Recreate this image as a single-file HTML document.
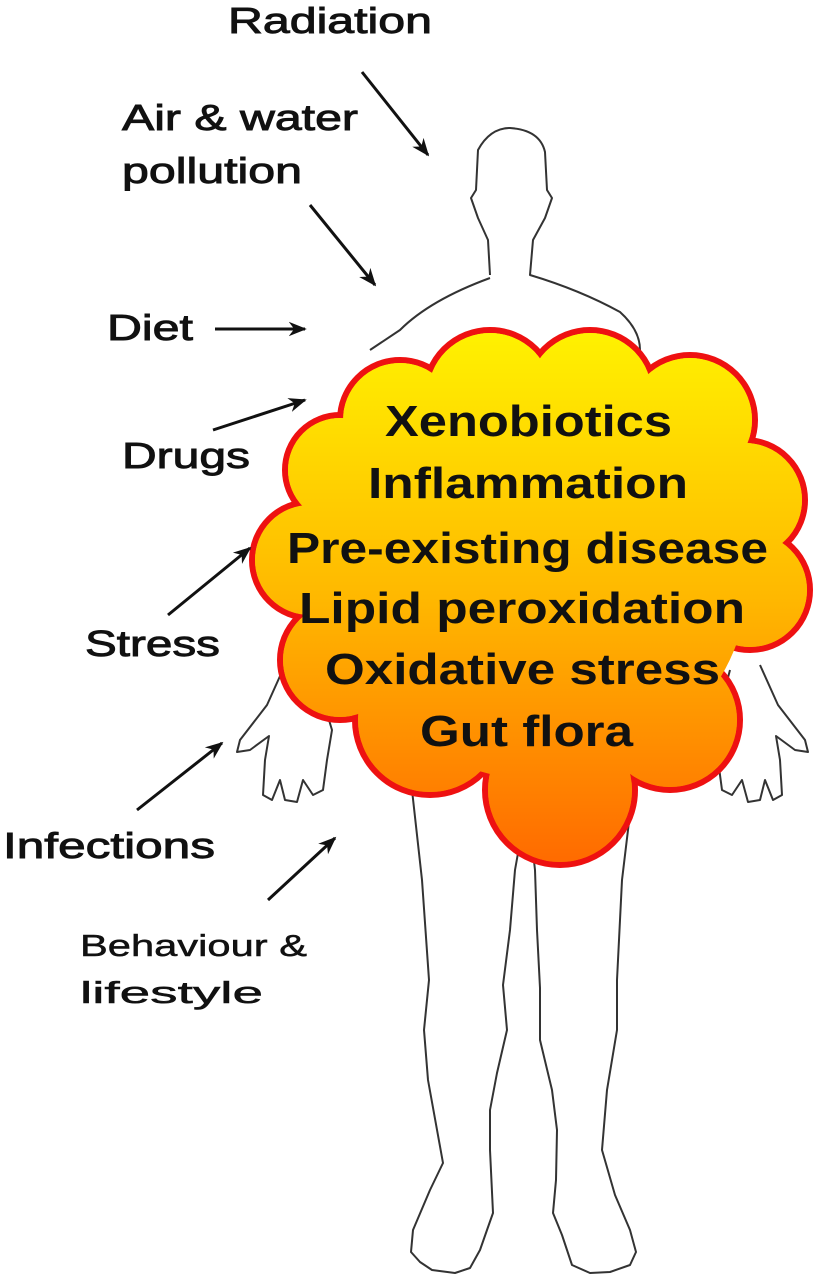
<!DOCTYPE html>
<html><head><meta charset="utf-8"><style>
html,body{margin:0;padding:0;background:#fff;}
svg{display:block;}
</style></head><body>
<svg width="814" height="1280" viewBox="0 0 814 1280" xmlns="http://www.w3.org/2000/svg">
<defs>
<linearGradient id="g" gradientUnits="userSpaceOnUse" x1="0" y1="330" x2="0" y2="865">
<stop offset="0" stop-color="#fff200"/><stop offset="0.5" stop-color="#ffb800"/><stop offset="1" stop-color="#ff6a00"/>
</linearGradient>
<marker id="a" viewBox="0 0 10 10" refX="9" refY="5" markerWidth="6" markerHeight="6" orient="auto"><path d="M0,1 L10,5 L0,9 L3,5 z" fill="#111"/></marker>
</defs>
<g fill="none" stroke="#333" stroke-width="2" stroke-linejoin="round">
<path d="M490,275 L488,240 L478,218 L471,198 L476,190 L478,150 Q490,128 510,128 Q540,130 545,152 L547,190 L552,198 L545,218 L533,240 L530,275 Q580,290 620,312 Q640,330 640,350"/>
<path d="M490,278 Q430,300 400,330 L370,350"/>
<path d="M760,665 L778,705 L805,740 L808,752 L795,750 L776,736 L780,760 L782,795 L773,800 L765,780 L760,800 L748,802 L742,780 L732,795 L722,790 L718,760 L713,730 L722,700 L730,670"/>
<path transform="translate(1045,0) scale(-1,1)" d="M760,665 L778,705 L805,740 L808,752 L795,750 L776,736 L780,760 L782,795 L773,800 L765,780 L760,800 L748,802 L742,780 L732,795 L722,790 L718,760 L713,730 L722,700 L730,670"/>
<path d="M412,790 L422,880 L429,980 L424,1030 L428,1080 L443,1163 L430,1190 L413,1230 L411,1252 L420,1262 L432,1270 L455,1273 L470,1268 L480,1250 L487,1230 L493,1213 L490,1150 L490,1110 L497,1073 L507,1030 L503,985 L510,930 L515,870 L523,825"/>
<path d="M530,825 L535,870 L537,930 L540,988 L540,1040 L552,1090 L557,1130 L556,1180 L553,1213 L562,1235 L572,1265 L590,1273 L610,1272 L630,1265 L636,1252 L630,1230 L615,1195 L602,1150 L607,1090 L617,1030 L617,980 L622,880 L634,780"/>
</g>
<g stroke="#ee1111" stroke-width="6" fill="url(#g)">
<circle cx="400" cy="420" r="60"/><circle cx="490" cy="395" r="65"/><circle cx="590" cy="395" r="65"/><circle cx="690" cy="420" r="65"/>
<circle cx="745" cy="500" r="60"/><circle cx="750" cy="590" r="60"/><circle cx="310" cy="560" r="58"/><circle cx="340" cy="470" r="55"/>
<circle cx="340" cy="660" r="60"/><circle cx="430" cy="720" r="75"/><circle cx="560" cy="790" r="75"/><circle cx="670" cy="720" r="70"/>
</g>
<g fill="url(#g)">
<circle cx="400" cy="420" r="57"/><circle cx="490" cy="395" r="62"/><circle cx="590" cy="395" r="62"/><circle cx="690" cy="420" r="62"/>
<circle cx="745" cy="500" r="57"/><circle cx="750" cy="590" r="57"/><circle cx="310" cy="560" r="55"/><circle cx="340" cy="470" r="52"/>
<circle cx="340" cy="660" r="57"/><circle cx="430" cy="720" r="72"/><circle cx="560" cy="790" r="72"/><circle cx="670" cy="720" r="67"/>
<circle cx="540" cy="570" r="210"/>
</g>
<g font-family="Liberation Sans, sans-serif" font-weight="bold" font-size="44" fill="#111">
<text x="385" y="436" textLength="287" lengthAdjust="spacingAndGlyphs">Xenobiotics</text>
<text x="368" y="498" textLength="320" lengthAdjust="spacingAndGlyphs">Inflammation</text>
<text x="287" y="563" textLength="481" lengthAdjust="spacingAndGlyphs">Pre-existing disease</text>
<text x="299" y="623" textLength="446" lengthAdjust="spacingAndGlyphs">Lipid peroxidation</text>
<text x="325" y="684" textLength="395" lengthAdjust="spacingAndGlyphs">Oxidative stress</text>
<text x="420" y="746" textLength="213" lengthAdjust="spacingAndGlyphs">Gut flora</text>
</g>
<g font-family="Liberation Sans, sans-serif" font-size="36" fill="#111" stroke="#111" stroke-width="0.9">
<text x="228" y="33" textLength="204" lengthAdjust="spacingAndGlyphs">Radiation</text>
<text x="122" y="130" textLength="236" lengthAdjust="spacingAndGlyphs">Air &amp; water</text>
<text x="122" y="183" textLength="180" lengthAdjust="spacingAndGlyphs">pollution</text>
<text x="107" y="340" textLength="86" lengthAdjust="spacingAndGlyphs">Diet</text>
<text x="122" y="468" textLength="128" lengthAdjust="spacingAndGlyphs">Drugs</text>
<text x="85" y="656" textLength="135" lengthAdjust="spacingAndGlyphs">Stress</text>
<text x="3" y="858" textLength="212" lengthAdjust="spacingAndGlyphs">Infections</text>
<text x="80" y="956" font-size="31" stroke-width="0.5" textLength="227" lengthAdjust="spacingAndGlyphs">Behaviour &amp;</text>
<text x="80" y="1003" font-size="31" stroke-width="0.5" textLength="183" lengthAdjust="spacingAndGlyphs">lifestyle</text>
</g>
<g stroke="#111" stroke-width="3" marker-end="url(#a)">
<line x1="362" y1="72" x2="428" y2="155"/>
<line x1="310" y1="205" x2="375" y2="285"/>
<line x1="215" y1="329" x2="305" y2="329"/>
<line x1="213" y1="430" x2="305" y2="400"/>
<line x1="168" y1="615" x2="250" y2="548"/>
<line x1="137" y1="810" x2="222" y2="743"/>
<line x1="268" y1="900" x2="335" y2="838"/>
</g>
</svg>
</body></html>
